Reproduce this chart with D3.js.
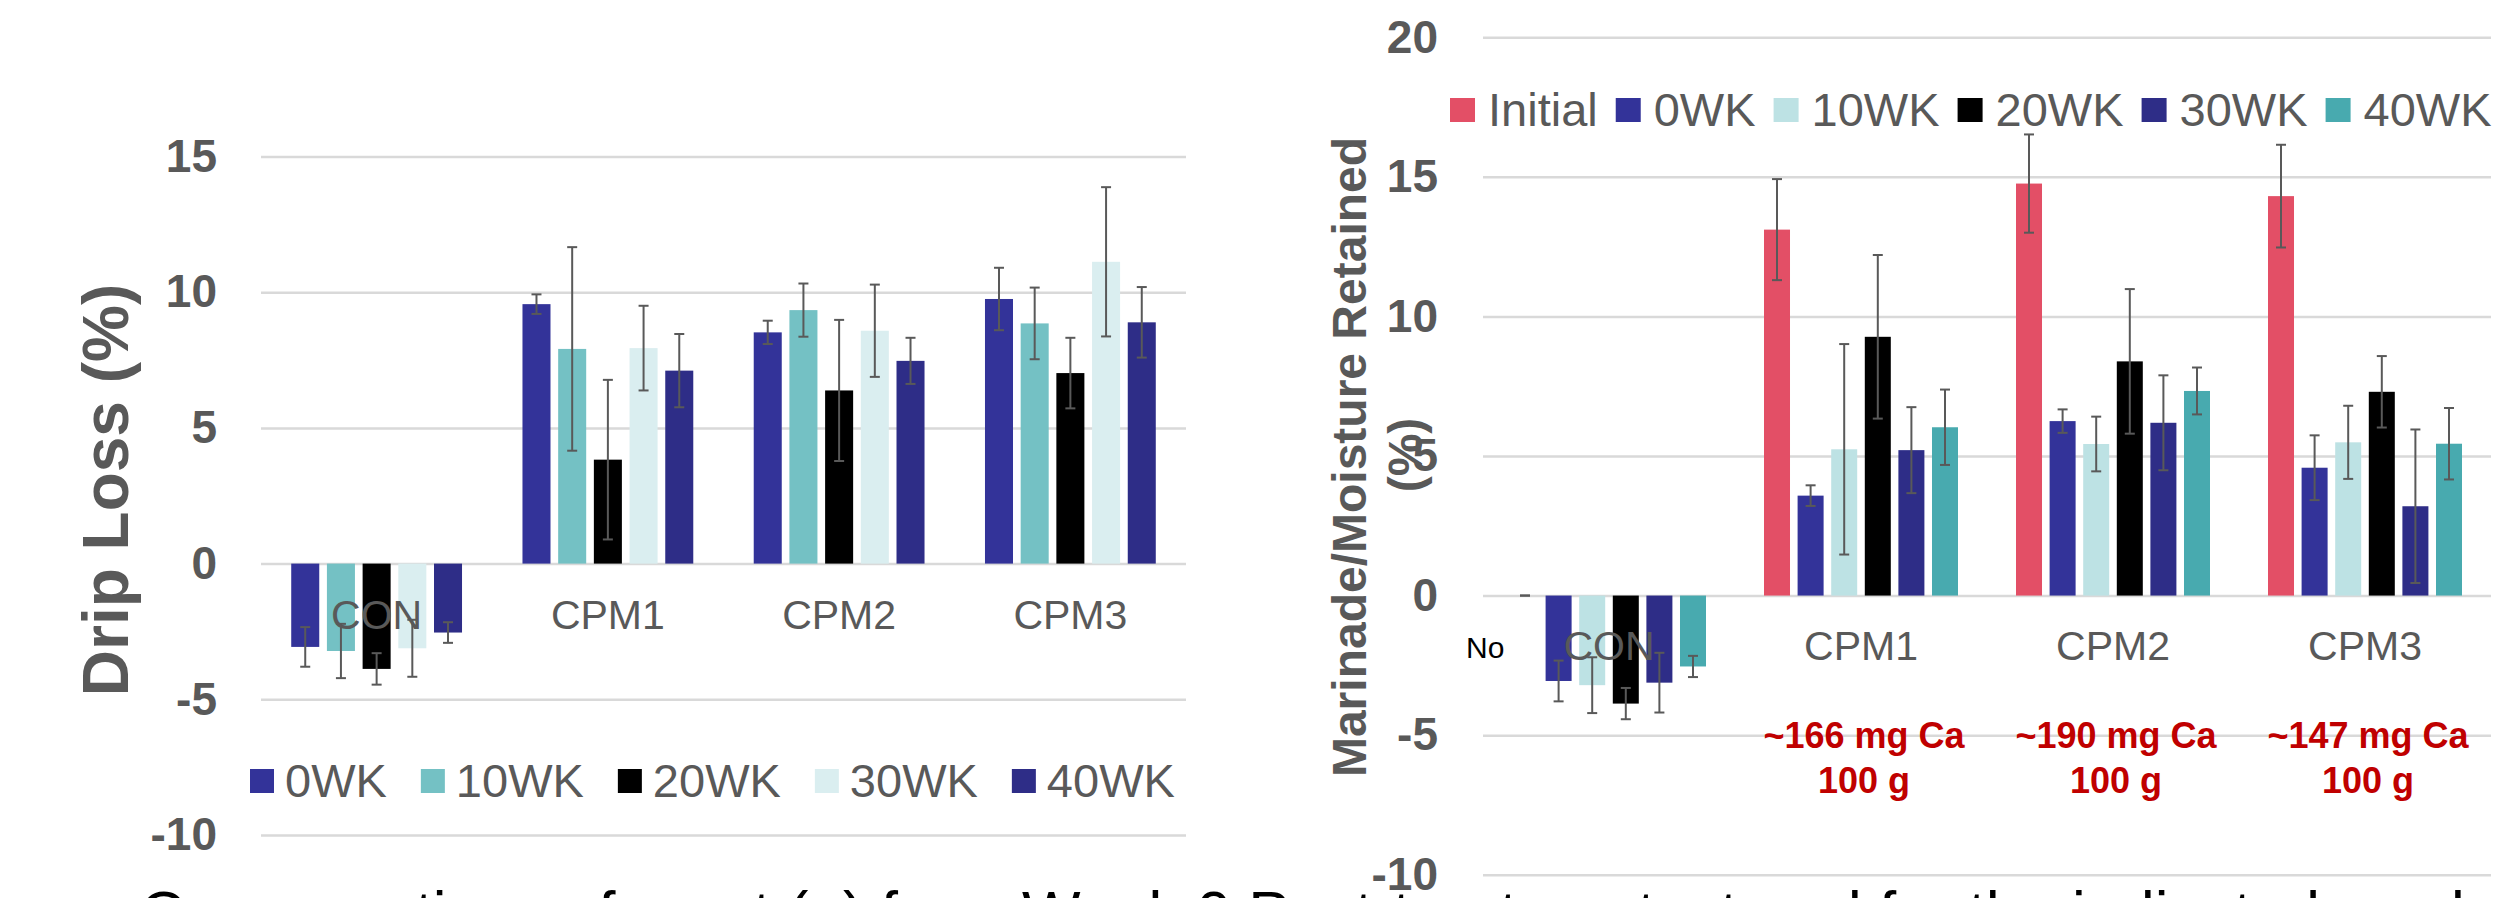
<!DOCTYPE html>
<html>
<head>
<meta charset="utf-8">
<script src="https://cdn.jsdelivr.net/npm/d3@7"></script>
<style>
  html, body { margin: 0; padding: 0; background: #fff; overflow: hidden; }
  svg { display: block; font-family: "Liberation Sans", Arial, sans-serif; }
</style>
</head>
<body>
<svg id="chart" width="2513" height="898"></svg>
<script>
// Categories shared by both panels
const categories = ['CON', 'CPM1', 'CPM2', 'CPM3'];

// Left panel: drip loss (%), one row per series, values per category
const dripSeries = ['0WK', '10WK', '20WK', '30WK', '40WK'];
const dripColors = ['#333399', '#74C1C4', '#000000', '#DAEEF0', '#2E2D87'];
const dripMean = [
  [-3.07, 9.56, 8.52, 9.75],
  [-3.22, 7.91, 9.34, 8.85],
  [-3.88, 3.83, 6.38, 7.02],
  [-3.12, 7.94, 8.58, 11.12],
  [-2.54, 7.11, 7.47, 8.89]
];
const dripErr = [
  [0.73, 0.36, 0.43, 1.15],
  [1.00, 3.75, 0.98, 1.32],
  [0.58, 2.94, 2.60, 1.30],
  [1.05, 1.56, 1.70, 2.75],
  [0.38, 1.35, 0.85, 1.30]
];
const dripTicks = [-10, -5, 0, 5, 10, 15];

// Right panel: marinade / moisture retained (%)
const retSeries = ['Initial', '0WK', '10WK', '20WK', '30WK', '40WK'];
const retColors = ['#E34F66', '#333399', '#BDE2E4', '#000000', '#2E2D87', '#48AAAF'];
const retMean = [
  [0, 13.11, 14.76, 14.31],
  [-3.06, 3.58, 6.25, 4.58],
  [-3.21, 5.24, 5.43, 5.49],
  [-3.87, 9.27, 8.39, 7.30],
  [-3.12, 5.21, 6.19, 3.20],
  [-2.54, 6.03, 7.33, 5.44]
];
const retErr = [
  [0, 1.81, 1.76, 1.84],
  [0.73, 0.37, 0.42, 1.16],
  [1.00, 3.77, 0.98, 1.31],
  [0.56, 2.93, 2.59, 1.28],
  [1.07, 1.54, 1.70, 2.75],
  [0.38, 1.35, 0.84, 1.28]
];
const retTicks = [-10, -5, 0, 5, 10, 15, 20];
const caLine1 = ['', '~166 mg Ca', '~190 mg Ca', '~147 mg Ca'];
const caLine2 = ['', '100 g', '100 g', '100 g'];

const GREY = '#595959';
const svg = d3.select('#chart');

function drawPanel(p) {
  const g = svg.append('g');
  const x = d3.scaleBand().domain(categories).range([p.x0, p.x1]);
  const y = d3.scaleLinear().domain(p.domain).range([p.yBottom, p.yTop]);
  const inner = d3.scaleBand().domain(p.series)
    .range([-p.groupHalf, p.groupHalf]).paddingInner(p.gap);

  // gridlines + tick labels (plain hyphen for negatives, like the original)
  const axis = g.append('g')
    .attr('transform', `translate(${p.x0},0)`)
    .call(d3.axisLeft(y).tickValues(p.ticks).tickFormat(d => String(d))
      .tickSize(-(p.x1 - p.x0)).tickPadding(p.tickPad));
  axis.select('.domain').remove();
  axis.selectAll('.tick line').attr('stroke', '#D9D9D9').attr('stroke-width', 2.5);
  axis.selectAll('.tick text')
    .attr('fill', GREY).attr('font-size', 46).attr('font-weight', 'bold')
    .attr('font-family', '"Liberation Sans", Arial, sans-serif');

  const cells = [];
  p.series.forEach((s, si) => {
    categories.forEach((c, ci) => {
      cells.push({ s, c, si, v: p.mean[si][ci], e: p.err[si][ci] });
    });
  });

  const cx = d => x(d.c) + x.bandwidth() / 2 + inner(d.s);

  g.append('g').selectAll('rect').data(cells).enter().append('rect')
    .attr('x', cx)
    .attr('width', inner.bandwidth())
    .attr('y', d => y(Math.max(0, d.v)))
    .attr('height', d => Math.abs(y(d.v) - y(0)))
    .attr('fill', d => p.colors[d.si]);

  // category labels sit on top of the bars
  g.append('g').selectAll('text').data(categories).enter().append('text')
    .attr('x', c => x(c) + x.bandwidth() / 2)
    .attr('y', p.catY)
    .attr('text-anchor', 'middle')
    .attr('font-size', 41)
    .attr('fill', GREY)
    .text(c => c);

  // error bars
  const eb = g.append('g').attr('stroke', GREY).attr('stroke-width', 2).selectAll('g')
    .data(cells).enter().append('g');
  const mid = d => cx(d) + inner.bandwidth() / 2;
  eb.append('line')
    .attr('x1', mid).attr('x2', mid)
    .attr('y1', d => y(d.v + d.e)).attr('y2', d => y(d.v - d.e));
  [1, -1].forEach(sign => {
    eb.append('line')
      .attr('x1', d => mid(d) - 5).attr('x2', d => mid(d) + 5)
      .attr('y1', d => y(d.v + sign * d.e)).attr('y2', d => y(d.v + sign * d.e));
  });

  return { x, y };
}

function drawLegend(l) {
  const g = svg.append('g');
  let cursor = l.x;
  l.series.forEach((s, i) => {
    g.append('rect')
      .attr('x', cursor).attr('y', l.y)
      .attr('width', l.sw).attr('height', 24)
      .attr('fill', l.colors[i]);
    const t = g.append('text')
      .attr('x', cursor + l.textOff).attr('y', l.y + 28)
      .attr('font-size', 47).attr('fill', GREY)
      .text(s);
    cursor += l.textOff + t.node().getComputedTextLength() + l.after;
  });
}

// ---- left panel
drawPanel({
  x0: 261, x1: 1186, yTop: 156.5, yBottom: 835, domain: [-10, 15],
  series: dripSeries, colors: dripColors, mean: dripMean, err: dripErr,
  ticks: dripTicks, tickPad: 44, groupHalf: 85.4, gap: 0.215, catY: 629
});
drawLegend({ x: 250, y: 769, sw: 24, textOff: 35, after: 34, series: dripSeries, colors: dripColors });

svg.append('text')
  .attr('transform', 'translate(128,490) rotate(-90)')
  .attr('text-anchor', 'middle')
  .attr('font-size', 64).attr('font-weight', 'bold').attr('fill', GREY)
  .text('Drip Loss (%)');

// ---- right panel
const right = drawPanel({
  x0: 1483, x1: 2491, yTop: 37.3, yBottom: 874.7, domain: [-10, 20],
  series: retSeries, colors: retColors, mean: retMean, err: retErr,
  ticks: retTicks, tickPad: 45, groupHalf: 97, gap: 0.226, catY: 660
});
drawLegend({ x: 1450, y: 98, sw: 25, textOff: 38, after: 18, series: retSeries, colors: retColors });

svg.append('text')
  .attr('transform', 'translate(1366,457) rotate(-90)')
  .attr('text-anchor', 'middle')
  .attr('font-size', 48).attr('font-weight', 'bold').attr('fill', GREY)
  .text('Marinade/Moisture Retained');
svg.append('text')
  .attr('transform', 'translate(1422,455) rotate(-90)')
  .attr('text-anchor', 'middle')
  .attr('font-size', 48).attr('font-weight', 'bold').attr('fill', GREY)
  .text('(%)');

svg.append('text')
  .attr('x', 1466).attr('y', 658)
  .attr('font-size', 30).attr('fill', '#000')
  .text('No');

const ann = svg.append('g').attr('text-anchor', 'middle')
  .attr('font-size', 36).attr('font-weight', 'bold').attr('fill', '#C00000');
categories.forEach((c, i) => {
  if (!caLine1[i]) return;
  const cxp = right.x(c) + right.x.bandwidth() / 2 + 3;
  ann.append('text').attr('x', cxp).attr('y', 748).text(caLine1[i]);
  ann.append('text').attr('x', cxp).attr('y', 793).text(caLine2[i]);
});

// caption line, cut off at the bottom edge of the slide
svg.append('text')
  .attr('x', 140).attr('y', 934)
  .attr('font-size', 62).attr('fill', '#000')
  .text('Cross sections of meat (a) from Week 0 Post-treatment, stored for the indicated weeks');
</script>
</body>
</html>
